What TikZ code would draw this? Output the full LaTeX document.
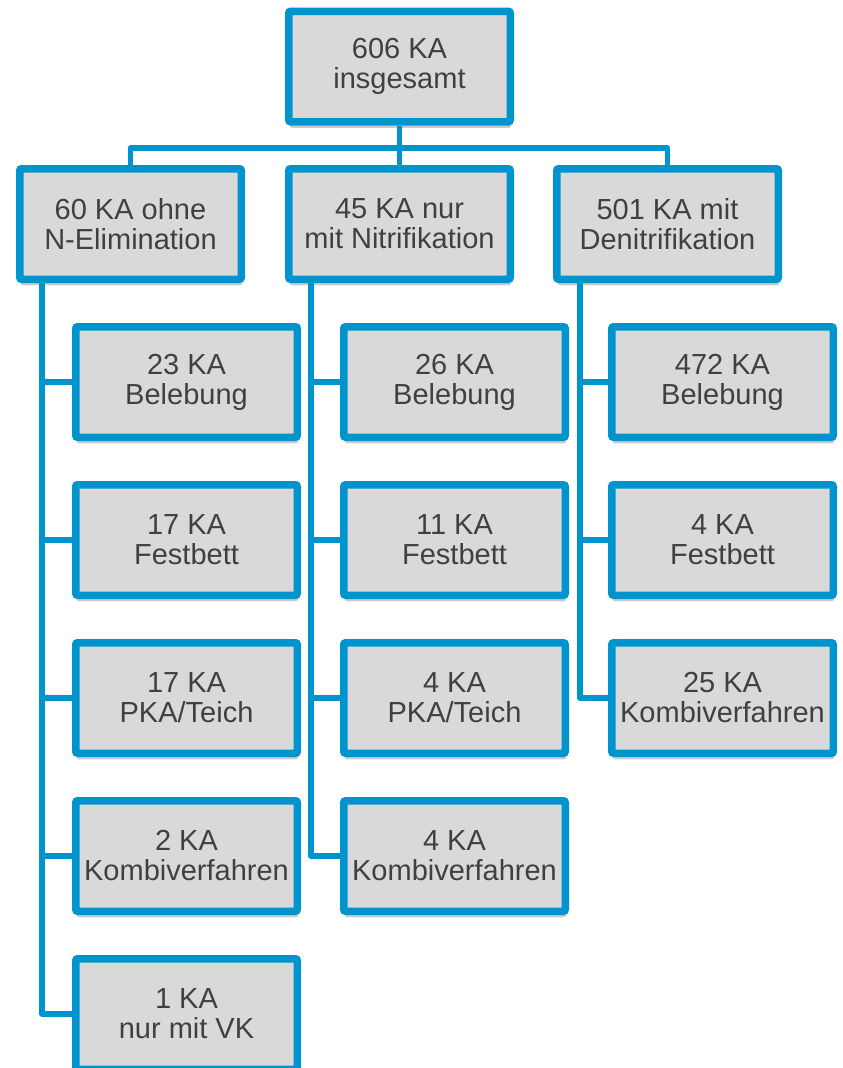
\documentclass[tikz,border=0pt]{standalone}
\usepackage{fontspec}
\setmainfont{Liberation Sans}
\usetikzlibrary{shadows}
\definecolor{kablau}{RGB}{0,148,206}
\definecolor{kagrau}{RGB}{217,217,217}
\definecolor{katext}{RGB}{64,64,64}
\tikzset{
	kabox/.style={draw=kablau,line width=7.5pt,fill=kagrau,rounded corners=2pt,minimum width=221.5pt,minimum height=110.5pt,inner sep=0pt,align=center,text=katext,font=\fontsize{29}{30}\selectfont,drop shadow={shadow xshift=1pt,shadow yshift=-6pt,opacity=0.2,fill=black}},
	verb/.style={draw=kablau,line width=5.5pt,line join=round}
}
\begin{document}
\begin{tikzpicture}[x=1pt,y=-1pt]
			\useasboundingbox (0,0) rectangle (843,1068);
			\node[kabox](ges) at (399.5,66.5){606 KA\\insgesamt};
			\node[kabox](ohne) at (130.5,224){60 KA ohne\\N-Elimination};
			\node[kabox](nitri) at (399.5,224){45 KA nur\\mit Nitrifikation};
			\node[kabox](deni) at (667.5,224){501 KA mit\\Denitrifikation};
			\node[kabox](o1) at (186.5,382){23 KA\\Belebung};
			\node[kabox](o2) at (186.5,540){17 KA\\Festbett};
			\node[kabox](o3) at (186.5,698){17 KA\\PKA/Teich};
			\node[kabox](o4) at (186.5,856){2 KA\\Kombiverfahren};
			\node[kabox](o5) at (186.5,1014){1 KA\\nur mit VK};
			\node[kabox](n1) at (454.5,382){26 KA\\Belebung};
			\node[kabox](n2) at (454.5,540){11 KA\\Festbett};
			\node[kabox](n3) at (454.5,698){4 KA\\PKA/Teich};
			\node[kabox](n4) at (454.5,856){4 KA\\Kombiverfahren};
			\node[kabox](d1) at (722.5,382){472 KA\\Belebung};
			\node[kabox](d2) at (722.5,540){4 KA\\Festbett};
			\node[kabox](d3) at (722.5,698){25 KA\\Kombiverfahren};
			\coordinate(bus) at (399.5,148);
			\coordinate(sp1) at (42,283);
			\coordinate(sp2) at (311,283);
			\coordinate(sp3) at (580,283);
			\begin{scope}[on background layer/.try]
			\draw[verb](ges.south)--(nitri.north);
			\draw[verb](ohne.north)|-(bus)-|(deni.north);
			\foreach \k in {o1,o2,o3,o4,o5} \draw[verb](sp1)|-(\k.west);
			\foreach \k in {n1,n2,n3,n4} \draw[verb](sp2)|-(\k.west);
			\foreach \k in {d1,d2,d3} \draw[verb](sp3)|-(\k.west);
			\end{scope}
		\end{tikzpicture}
\end{document}
